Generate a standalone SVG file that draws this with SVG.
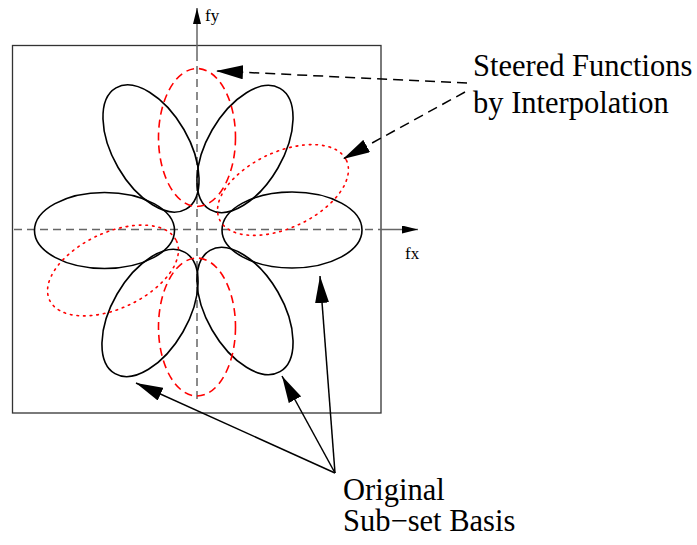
<svg xmlns="http://www.w3.org/2000/svg" width="697" height="545" viewBox="0 0 697 545">
<style>
.frame{fill:none;stroke:#333;stroke-width:1.3}
.axis{fill:none;stroke:#666;stroke-width:1.5}
.axisd{fill:none;stroke:#666;stroke-width:1.5;stroke-dasharray:8 5}
.basis{fill:none;stroke:#000;stroke-width:1.6}
.steer{fill:none;stroke:#f00;stroke-width:1.6;stroke-dasharray:8 5}
.interp{fill:none;stroke:#f00;stroke-width:1.6;stroke-dasharray:1.6 5;stroke-linecap:round}
.lead{fill:none;stroke:#000;stroke-width:1.5;marker-end:url(#ah)}
.leadd{fill:none;stroke:#000;stroke-width:1.5;stroke-dasharray:10 6;marker-end:url(#ah)}
.lbl{font-family:"Liberation Serif","Times New Roman",serif;font-size:30.5px;fill:#000}
.ax{font-family:"Liberation Serif","Times New Roman",serif;font-size:17px;fill:#000}
</style>
<defs>
<marker id="ah" markerUnits="userSpaceOnUse" markerWidth="28" markerHeight="14" refX="27" refY="7" orient="auto" viewBox="0 0 28 14">
<path d="M0,0 L27,7 L0,14 z" fill="#000"/>
</marker>
<marker id="axh" markerUnits="userSpaceOnUse" markerWidth="16" markerHeight="8" refX="16" refY="4" orient="auto" viewBox="0 0 16 8">
<path d="M0,0 L16,4 L0,8 z" fill="#000"/>
</marker>
</defs>
<g id="frame">
<rect class="frame" x="12.5" y="45.5" width="368.5" height="367.5"/>
</g>
<g id="axes">
<line class="axis" x1="197" y1="53" x2="197" y2="8" marker-end="url(#axh)"/>
<line class="axisd" x1="197" y1="53" x2="197" y2="404"/>
<line class="axisd" x1="14" y1="229.5" x2="381" y2="229.5"/>
<line class="axis" x1="381" y1="229.5" x2="418" y2="229.5" marker-end="url(#axh)"/>
<text class="ax" x="205" y="21">fy</text>
<text class="ax" x="405" y="259">fx</text>
</g>
<g id="basis">
<ellipse class="basis" cx="104.5" cy="230.5" rx="70" ry="38"/>
<ellipse class="basis" cx="292" cy="230" rx="70" ry="38"/>
<ellipse class="basis" cx="245" cy="149" rx="70" ry="38" transform="rotate(-60 245 149)"/>
<ellipse class="basis" cx="151" cy="148.5" rx="70" ry="38" transform="rotate(60 151 148.5)"/>
<ellipse class="basis" cx="150" cy="313" rx="70" ry="38" transform="rotate(-60 150 313)"/>
<ellipse class="basis" cx="245" cy="311" rx="70" ry="38" transform="rotate(60 245 311)"/>
</g>
<g id="steered">
<ellipse class="steer" cx="197" cy="137.5" rx="38.5" ry="69"/>
<ellipse class="steer" cx="197" cy="327" rx="38.5" ry="69"/>
<ellipse class="interp" cx="283" cy="190" rx="70" ry="38" transform="rotate(-25 283 190)"/>
<ellipse class="interp" cx="113" cy="270.5" rx="70" ry="38" transform="rotate(-25 113 270.5)"/>
</g>
<g id="connectors">
<line class="leadd" x1="467" y1="83" x2="216" y2="71"/>
<line class="leadd" x1="465" y1="92" x2="343" y2="159"/>
<line class="lead" x1="335" y1="473" x2="136" y2="383"/>
<line class="lead" x1="335" y1="473" x2="282" y2="376"/>
<line class="lead" x1="335" y1="473" x2="320" y2="276"/>
</g>
<g id="label-steered">
<text class="lbl" x="473" y="76">Steered Functions</text>
<text class="lbl" x="473" y="113">by Interpolation</text>
</g>
<g id="label-original">
<text class="lbl" x="343" y="500">Original</text>
<text class="lbl" x="343" y="531">Sub−set Basis</text>
</g>
</svg>
